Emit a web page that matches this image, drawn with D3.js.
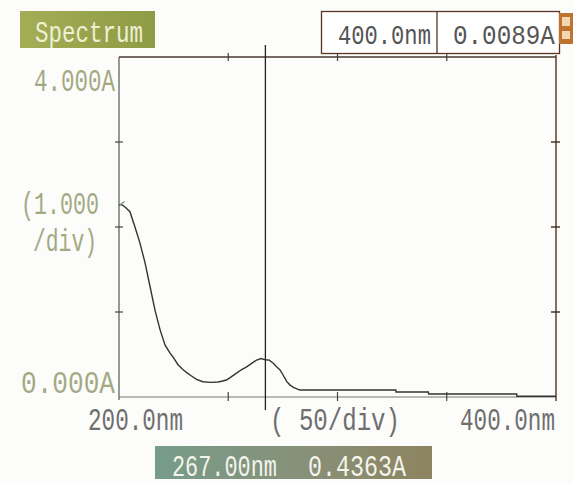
<!DOCTYPE html>
<html>
<head>
<meta charset="utf-8">
<script src="https://cdn.jsdelivr.net/npm/d3@7"></script>
<style>
  body { margin: 0; background: #fcfcfa; }
  svg { display: block; }
  text { font-family: "Liberation Mono", "DejaVu Sans Mono", monospace; }
</style>
</head>
<body>
<div id="chart"></div>
<script>
// spectrum values (nm, absorbance)
const wavelengths = [200, 201.5, 203, 205, 207.3, 209.6, 211.9, 214.2, 216.5, 218.8, 221.1, 223.3, 225, 227, 229, 231, 233, 235.5, 238.4, 242, 245.3, 247, 249.2, 251.5, 253.8, 256, 258.4, 260.7, 263, 265, 267, 268.6, 270.5, 272, 273.7, 275.3, 276.8, 278.3, 279.8, 282.8, 326.7, 326.8, 341.6, 341.7, 382, 382.1, 400];
const absorbance = [2.26, 2.26, 2.23, 2.18, 2.0, 1.81, 1.58, 1.30, 1.02, 0.79, 0.61, 0.52, 0.46, 0.38, 0.33, 0.286, 0.25, 0.208, 0.18, 0.172, 0.176, 0.185, 0.2, 0.24, 0.28, 0.32, 0.355, 0.395, 0.435, 0.452, 0.4363, 0.435, 0.40, 0.36, 0.318, 0.25, 0.18, 0.14, 0.114, 0.082, 0.082, 0.059, 0.059, 0.035, 0.035, 0.0089, 0.0089];

const xTicks = [250, 300, 350];
const yTicks = [1, 2, 3];
const cursorNm = 267;
const cursorA = 0.4363;
const endNm = 400;
const endA = 0.0089;

const width = 573, height = 484;

const svg = d3.select("#chart").append("svg")
  .attr("width", width)
  .attr("height", height);

const x = d3.scaleLinear().domain([200, 400]).range([119, 556]);
const y = d3.scaleLinear().domain([0, 4]).range([397, 57]);

// gradients for the two label boxes
const defs = svg.append("defs");
const g1 = defs.append("linearGradient").attr("id", "specGrad");
g1.append("stop").attr("offset", "0%").attr("stop-color", "#a3ad55");
g1.append("stop").attr("offset", "100%").attr("stop-color", "#8e9c45");
const g2 = defs.append("linearGradient").attr("id", "curGrad");
g2.append("stop").attr("offset", "0%").attr("stop-color", "#769c8a");
g2.append("stop").attr("offset", "55%").attr("stop-color", "#889078");
g2.append("stop").attr("offset", "100%").attr("stop-color", "#8d8460");

// helper: tall narrow text like the instrument font (squeezed with a scale)
function label(t, x0, base, w, size, color) {
  const txt = svg.append("text")
    .attr("x", 0).attr("y", 0)
    .style("font-size", size + "px")
    .attr("fill", color)
    .text(t);
  const natural = txt.node().getComputedTextLength();
  txt.attr("transform", `translate(${x0}, ${base}) scale(${w / natural}, 1)`);
  return txt;
}

// "Spectrum" title box
svg.append("rect").attr("x", 20).attr("y", 11).attr("width", 135).attr("height", 37)
  .attr("fill", "url(#specGrad)");
label("Spectrum", 35, 42, 108, 30, "#eef0d6");

// top-right readout box
svg.append("rect").attr("x", 321.5).attr("y", 11.5).attr("width", 238).attr("height", 42)
  .attr("fill", "#fff").attr("stroke", "#5a3424").attr("stroke-width", 1.3);
svg.append("line").attr("x1", 437).attr("x2", 437).attr("y1", 11.5).attr("y2", 53.5)
  .attr("stroke", "#5a3424").attr("stroke-width", 1.3);
label(endNm.toFixed(1) + "nm", 338, 44, 93, 28, "#555");
label(endA.toFixed(4) + "A", 453, 44, 102, 28, "#555");
svg.append("rect").attr("x", 559).attr("y", 13).attr("width", 14).attr("height", 31).attr("fill", "#c0722e");
svg.append("rect").attr("x", 562).attr("y", 17).attr("width", 8).attr("height", 9).attr("fill", "#f3d7b0");
svg.append("rect").attr("x", 562).attr("y", 31).attr("width", 8).attr("height", 8).attr("fill", "#f3d7b0");

// frame
svg.append("line").attr("x1", x(200)).attr("x2", x(400)).attr("y1", y(4)).attr("y2", y(4))
  .attr("stroke", "#4a3a32").attr("stroke-width", 1.4);
svg.append("line").attr("x1", x(400)).attr("x2", x(400)).attr("y1", y(4) - 2).attr("y2", y(0) + 4)
  .attr("stroke", "#5a2e1e").attr("stroke-width", 1.4);
svg.append("line").attr("x1", x(200)).attr("x2", x(200)).attr("y1", y(4)).attr("y2", y(0) + 3)
  .attr("stroke", "#555").attr("stroke-width", 1.2);
svg.append("line").attr("x1", x(200)).attr("x2", x(400)).attr("y1", y(0)).attr("y2", y(0))
  .attr("stroke", "#777").attr("stroke-width", 1.2);

// tick marks
svg.selectAll(".tickTop").data(xTicks).enter().append("line")
  .attr("x1", d => x(d)).attr("x2", d => x(d))
  .attr("y1", y(4) - 4).attr("y2", y(4) + 4)
  .attr("stroke", "#4a3a32").attr("stroke-width", 1.2);
svg.selectAll(".tickBot").data(xTicks).enter().append("line")
  .attr("x1", d => x(d)).attr("x2", d => x(d))
  .attr("y1", y(0) - 5).attr("y2", y(0) + 4)
  .attr("stroke", "#444").attr("stroke-width", 1.2);
svg.selectAll(".tickLeft").data(yTicks).enter().append("line")
  .attr("x1", x(200) - 4).attr("x2", x(200) + 4)
  .attr("y1", d => y(d)).attr("y2", d => y(d))
  .attr("stroke", "#444").attr("stroke-width", 1.2);
svg.selectAll(".tickRight").data(yTicks).enter().append("line")
  .attr("x1", x(400) - 5).attr("x2", x(400) + 4)
  .attr("y1", d => y(d)).attr("y2", d => y(d))
  .attr("stroke", "#3a2a22").attr("stroke-width", 1.4);

// the spectrum trace
const lineFunc = d3.line()
  .x((d, i) => x(wavelengths[i]))
  .y(d => y(d));
svg.append("path")
  .attr("d", lineFunc(absorbance))
  .attr("fill", "none")
  .attr("stroke", "#333")
  .attr("stroke-width", 1.4);
svg.append("line").attr("x1", x(200) + 1).attr("x2", x(202.5)).attr("y1", y(2.26)).attr("y2", y(2.3))
  .attr("stroke", "#7aa070").attr("stroke-width", 1.5);

// cursor
svg.append("line").attr("x1", x(cursorNm)).attr("x2", x(cursorNm))
  .attr("y1", 45).attr("y2", 410)
  .attr("stroke", "#222").attr("stroke-width", 1.3);

// y axis labels
const yCol = "#a3a982";
label("4.000A", 34, 91, 81, 31, yCol);
label("(1.000", 21, 214, 78, 31, yCol);
label("/div)", 33, 251, 64, 31, yCol);
label("0.000A", 21, 393, 94, 31, yCol);

// x axis labels
const xCol = "#6e6e6e";
label("200.0nm", 88, 430, 95, 31, xCol);
label("( 50/div)", 270, 430, 130, 31, xCol);
label("400.0nm", 460, 430, 95, 31, xCol);

// cursor readout box
svg.append("rect").attr("x", 155).attr("y", 446).attr("width", 277).attr("height", 33)
  .attr("fill", "url(#curGrad)");
label(cursorNm.toFixed(2) + "nm", 172, 476, 105, 30, "#f4f4ec");
label(cursorA.toFixed(4) + "A", 308, 476, 98, 30, "#f4f4ec");
</script>
</body>
</html>
